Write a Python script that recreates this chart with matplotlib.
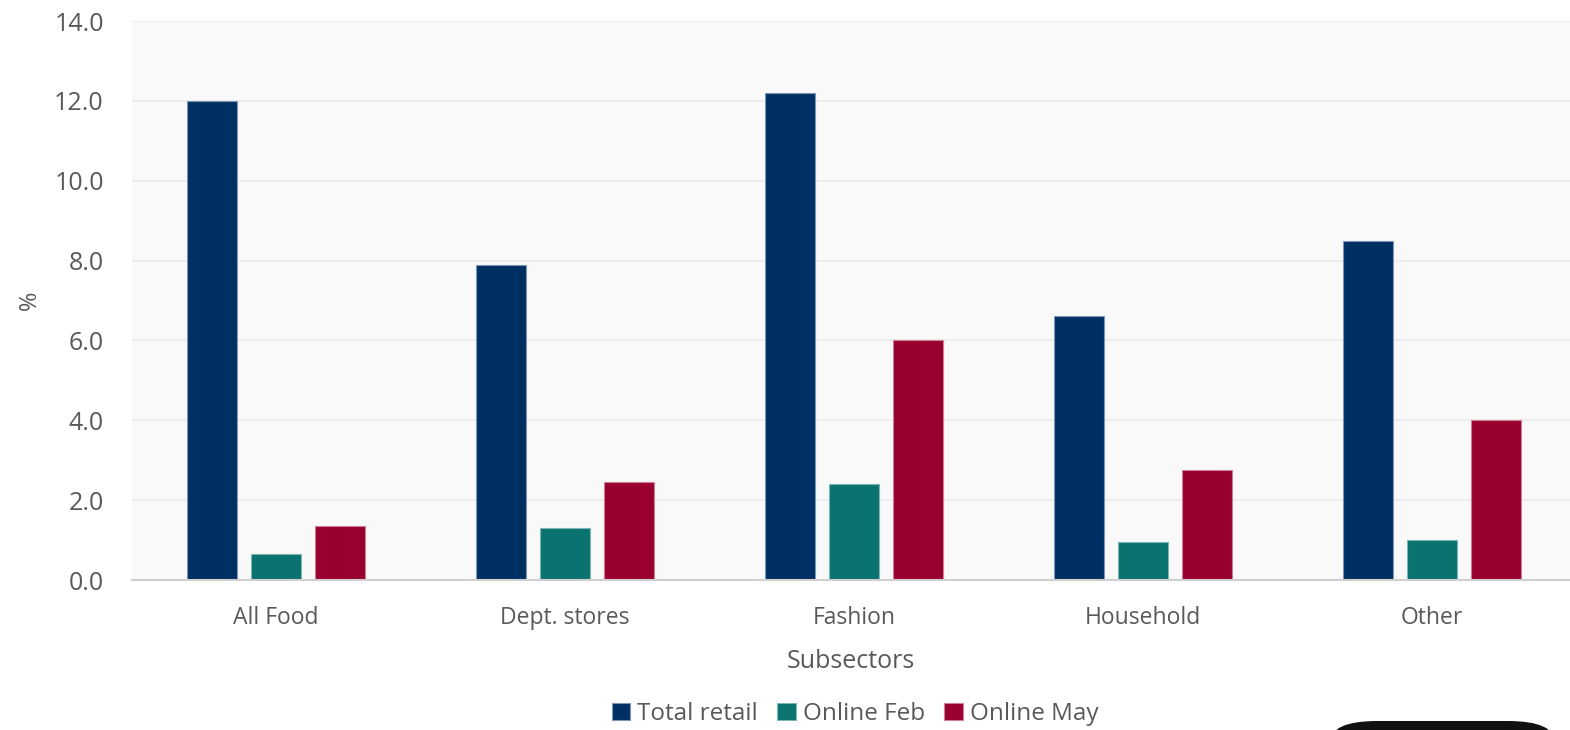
import numpy as np
import matplotlib.pyplot as plt
from matplotlib.patches import FancyBboxPatch

plt.rcParams['font.family'] = ['Open Sans', 'DejaVu Sans']

subsectors = ['All Food', 'Dept. stores', 'Fashion', 'Household', 'Other']
series_names = ['Total retail', 'Online Feb', 'Online May']
total_retail = [12.0, 7.9, 12.2, 6.6, 8.5]
online_feb = [0.65, 1.3, 2.4, 0.95, 1.0]
online_may = [1.35, 2.45, 6.0, 2.75, 4.0]
colors = ['#003063', '#0a7370', '#990030']
edges = ['#7f96b5', '#7fb5b3', '#cc7f97']
yticks = [0, 2, 4, 6, 8, 10, 12, 14]

text_col = '#595959'

fig = plt.figure(figsize=(15.7, 7.3), dpi=100)
ax = fig.add_axes([131.5 / 1570, 1 - 580 / 730, 1 - 131.5 / 1570, (580 - 21) / 730])
ax.set_facecolor('#f9f9f9')

x = np.arange(len(subsectors))
step = 64 / 289
width = 50 / 289
for i, (vals, name) in enumerate(zip([total_retail, online_feb, online_may], series_names)):
    ax.bar(x + (i - 1) * step, vals, width, color=colors[i], edgecolor=edges[i],
           linewidth=0.8, label=name, zorder=3)

ax.set_xlim(-0.5, -0.5 + (1570 - 131.5) / 289)
ax.set_ylim(0, 14)
ax.set_yticks(yticks)
ax.set_yticklabels([f'{v:.1f}' for v in yticks])
ax.set_xticks(x)
ax.set_xticklabels(subsectors)
ax.grid(axis='y', color='#ebebeb', linewidth=1.2, zorder=0)
for s in ['top', 'right', 'left']:
    ax.spines[s].set_visible(False)
ax.spines['bottom'].set_color('#cfcfcf')
ax.spines['bottom'].set_linewidth(1.5)
ax.spines['bottom'].set_zorder(4)
ax.tick_params(axis='y', length=0, pad=20, labelsize=18, labelcolor=text_col)
ax.tick_params(axis='x', length=0, pad=18.5, labelsize=16.5, labelcolor=text_col)

ax.set_ylabel('%', fontsize=17, color=text_col)
ax.yaxis.set_label_coords((42 - 131.5) / 1438.5, 0.5)
ax.set_xlabel('Subsectors', fontsize=18, color=text_col, labelpad=14)

fig.legend(loc='center', bbox_to_anchor=(855 / 1570, 1 - 714 / 730), ncol=3,
           frameon=False, fontsize=17.5, labelcolor=text_col, handlelength=0.75,
           handleheight=0.75, handletextpad=0.3, columnspacing=0.8, borderaxespad=0)

# dark rounded box peeking in at the bottom right
fig.patches.append(FancyBboxPatch((1330 / 1570, -0.05), 225 / 1570, (0.05 + 9 / 730),
                                  boxstyle='round,pad=0,rounding_size=0.03',
                                  transform=fig.transFigure, facecolor='#111111',
                                  edgecolor='none'))

fig.savefig('out.png', dpi=100)
